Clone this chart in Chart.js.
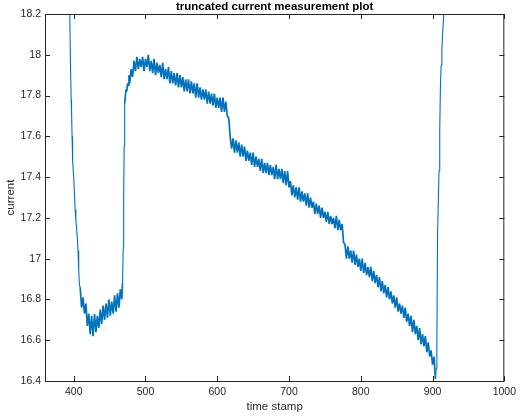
<!DOCTYPE html>
<html lang="en">
<head>
    <meta charset="UTF-8">
    <title>truncated current measurement plot</title>
    <style>
        body {
            margin: 0;
            padding: 0;
            background-color: #fff;
        }
        .chart-box {
            width: 521px;
            height: 418px;
        }
    </style>
</head>
<body>
    <div class="chart-box">
        <canvas id="currentChart"></canvas>
    </div>

    <script src="https://cdn.jsdelivr.net/npm/chart.js"></script>
    <script>
        const titleText = 'truncated current measurement plot';
        const xLabel = 'time stamp';
        const yLabel = 'current';
        const xTicks = [400, 500, 600, 700, 800, 900, 1000];
        const yTicks = [16.4, 16.6, 16.8, 17, 17.2, 17.4, 17.6, 17.8, 18, 18.2];

        // steep fall at the left edge (explicit time stamps)
        const dropTime = [393.5, 394.5, 395.5, 396.5, 397, 397.7, 398.5, 400, 401, 402, 403, 404, 405, 406, 407, 408];
        const dropCurrent = [18.45, 18.2, 17.95, 17.78, 17.72, 17.6, 17.48, 17.4, 17.32, 17.24, 17.19, 17.15, 17.1, 17.04, 16.94, 16.87];

        // noisy dip, sampled every 2 time units from 409
        const dipStart = 409;
        const dipCurrent = [
            16.86, 16.76, 16.81, 16.73, 16.78, 16.67, 16.73, 16.63, 16.72, 16.62,
            16.73, 16.64, 16.72, 16.66, 16.75, 16.68, 16.77, 16.70, 16.78, 16.71,
            16.80, 16.72, 16.79, 16.73, 16.82, 16.74, 16.83, 16.76, 16.85, 16.80
        ];

        // jump back up around 470
        const jumpTime = [468, 469, 469.6, 470.3, 471, 472, 473, 474, 475, 476, 477];
        const jumpCurrent = [16.88, 17.05, 17.3, 17.55, 17.76, 17.8, 17.83, 17.82, 17.86, 17.85, 17.9];

        // plateau and slow decay, every 2 units from 478 to 614
        const slopeStart = 478;
        const slopeCurrent = [
            17.86, 17.93, 17.89, 17.97, 17.92, 17.99, 17.93, 17.98, 17.94, 17.99,
            17.92, 17.98, 17.94, 18.00, 17.92, 17.97, 17.91, 17.98, 17.90, 17.96,
            17.91, 17.95, 17.89, 17.96, 17.88, 17.93, 17.88, 17.94, 17.86, 17.92,
            17.86, 17.91, 17.85, 17.91, 17.84, 17.90, 17.84, 17.89, 17.82, 17.88,
            17.82, 17.88, 17.81, 17.87, 17.81, 17.86, 17.79, 17.86, 17.79, 17.84,
            17.78, 17.83, 17.78, 17.83, 17.76, 17.82, 17.76, 17.81, 17.75, 17.81,
            17.74, 17.79, 17.74, 17.79, 17.72, 17.79, 17.72, 17.77, 17.70
        ];

        // after the step at ~616, every 2 units from 616 to 904
        const tailStart = 616;
        const tailCurrent = [
            17.69, 17.60, 17.54, 17.59, 17.52, 17.58, 17.52, 17.57, 17.50, 17.56,
            17.50, 17.55, 17.48, 17.53, 17.48, 17.52, 17.46, 17.52, 17.45, 17.50,
            17.45, 17.49, 17.43, 17.49, 17.42, 17.47, 17.42, 17.47, 17.41, 17.46,
            17.41, 17.45, 17.39, 17.46, 17.39, 17.44, 17.39, 17.44, 17.37, 17.43,
            17.36, 17.43, 17.35, 17.38, 17.31, 17.36, 17.30, 17.35, 17.29, 17.35,
            17.28, 17.33, 17.28, 17.32, 17.26, 17.32, 17.25, 17.30, 17.25, 17.28,
            17.22, 17.27, 17.22, 17.26, 17.20, 17.25, 17.20, 17.23, 17.18, 17.23,
            17.17, 17.21, 17.17, 17.20, 17.15, 17.21, 17.14, 17.19, 17.14, 17.17,
            17.08, 17.07, 17.00, 17.06, 17.00, 17.04, 16.98, 17.04, 16.97, 17.02,
            16.96, 17.00, 16.94, 17.00, 16.93, 16.98, 16.92, 16.96, 16.91, 16.96,
            16.89, 16.94, 16.88, 16.92, 16.86, 16.91, 16.84, 16.89, 16.83, 16.87,
            16.81, 16.86, 16.80, 16.84, 16.78, 16.82, 16.76, 16.81, 16.74, 16.78,
            16.73, 16.77, 16.71, 16.76, 16.69, 16.73, 16.67, 16.72, 16.64, 16.70,
            16.63, 16.67, 16.60, 16.66, 16.58, 16.63, 16.57, 16.62, 16.54, 16.59,
            16.52, 16.55, 16.48, 16.52, 16.41
        ];

        // fast recovery at the right edge
        const recoverTime = [905, 906, 907, 908, 909, 910, 911, 912, 913, 914, 915, 916, 917];
        const recoverCurrent = [16.46, 16.58, 17.12, 17.28, 17.43, 17.63, 17.85, 17.95, 18.03, 18.1, 18.16, 18.22, 18.28];

        function pairs(times, values) {
            return values.map((v, i) => ({ x: times[i], y: v }));
        }
        function sampled(start, values) {
            return values.map((v, i) => ({ x: start + 2 * i, y: v }));
        }

        const points = [].concat(
            pairs(dropTime, dropCurrent),
            sampled(dipStart, dipCurrent),
            pairs(jumpTime, jumpCurrent),
            sampled(slopeStart, slopeCurrent),
            sampled(tailStart, tailCurrent),
            pairs(recoverTime, recoverCurrent)
        );

        // the fast transitions look thinner than the noisy bands
        function isTransition(t) {
            return t < dipStart - 0.5 || (t >= jumpTime[0] && t < jumpTime[4]) || t >= recoverTime[0] - 1;
        }

        const axisColor = '#262626';
        const fontFamily = '"Liberation Sans", Arial, Helvetica, sans-serif';

        // box, inward ticks and title like a matlab figure
        const matlabAxes = {
            id: 'matlabAxes',
            afterDatasetsDraw(chart) {
                const { ctx, chartArea: a, scales: { x, y } } = chart;
                ctx.save();
                ctx.strokeStyle = axisColor;
                ctx.lineWidth = 1;
                ctx.strokeRect(a.left + 0.5, a.top + 0.5, a.right - a.left - 1, a.bottom - a.top);
                ctx.beginPath();
                xTicks.forEach(v => {
                    const px = Math.round(x.getPixelForValue(v)) + 0.5;
                    ctx.moveTo(px, a.bottom);
                    ctx.lineTo(px, a.bottom - 5);
                    ctx.moveTo(px, a.top);
                    ctx.lineTo(px, a.top + 5);
                });
                yTicks.forEach(v => {
                    const py = Math.round(y.getPixelForValue(v)) + 0.5;
                    ctx.moveTo(a.left, py);
                    ctx.lineTo(a.left + 5, py);
                    ctx.moveTo(a.right, py);
                    ctx.lineTo(a.right - 5, py);
                });
                ctx.stroke();
                ctx.fillStyle = '#000';
                ctx.font = 'bold 11.5px ' + fontFamily;
                ctx.textAlign = 'center';
                ctx.textBaseline = 'middle';
                ctx.fillText(titleText, (a.left + a.right) / 2, 7);
                ctx.restore();
            }
        };

        const ctx = document.getElementById('currentChart').getContext('2d');
        new Chart(ctx, {
            type: 'line',
            data: {
                datasets: [{
                    data: points,
                    borderColor: '#0072bd',
                    borderWidth: 1.7,
                    borderJoinStyle: 'bevel',
                    pointRadius: 0,
                    tension: 0,
                    fill: false,
                    segment: {
                        borderWidth: c => isTransition(c.p0.parsed.x) ? 1.1 : 1.7
                    }
                }]
            },
            options: {
                responsive: true,
                maintainAspectRatio: false,
                animation: false,
                parsing: false,
                layout: { padding: { top: 14, right: 11, left: 0, bottom: 0 } },
                plugins: {
                    legend: { display: false },
                    tooltip: { enabled: false }
                },
                scales: {
                    x: {
                        type: 'linear',
                        min: 360,
                        max: 1000,
                        afterBuildTicks: s => { s.ticks = xTicks.map(v => ({ value: v })); },
                        afterFit: s => { s.height = 37; },
                        grid: { display: false, drawTicks: false },
                        border: { display: false },
                        ticks: {
                            color: axisColor,
                            padding: 5,
                            maxRotation: 0,
                            font: { family: fontFamily, size: 10.5 },
                            callback: v => String(v)
                        },
                        title: {
                            display: true,
                            text: xLabel,
                            color: axisColor,
                            font: { family: fontFamily, size: 11.5 }
                        }
                    },
                    y: {
                        min: 16.4,
                        max: 18.2,
                        afterBuildTicks: s => { s.ticks = yTicks.map(v => ({ value: v })); },
                        afterFit: s => { s.width = 45; },
                        grid: { display: false, drawTicks: false },
                        border: { display: false },
                        ticks: {
                            color: axisColor,
                            padding: 4,
                            font: { family: fontFamily, size: 10.5 },
                            callback: v => String(+v.toFixed(1))
                        },
                        title: {
                            display: true,
                            text: yLabel,
                            color: axisColor,
                            font: { family: fontFamily, size: 11.5 }
                        }
                    }
                }
            },
            plugins: [matlabAxes]
        });
    </script>
</body>
</html>
